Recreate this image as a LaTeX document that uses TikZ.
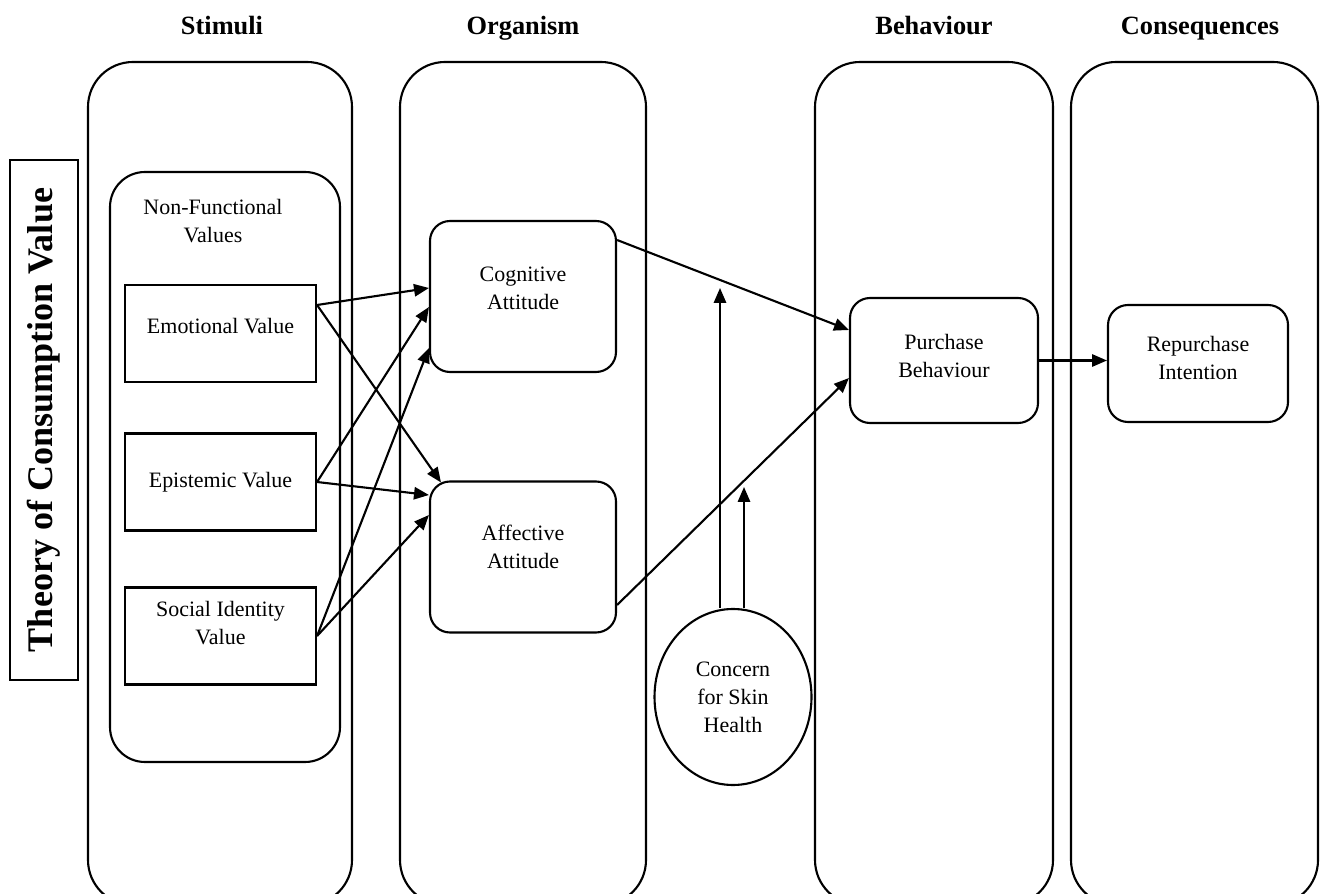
\documentclass[tikz,border=0pt]{standalone}
\usepackage{fontspec}
\setmainfont{Liberation Serif}
\usetikzlibrary{arrows.meta,shapes.geometric}
\tikzset{
  colbox/.style={draw, line width=1.2pt, rounded corners=0.9cm,
    minimum height=16.86cm, inner sep=0pt},
  colhead/.style={font=\fontsize{15}{18}\selectfont\bfseries, anchor=base},
  bodytext/.style={font=\fontsize{12.5}{16}\selectfont, align=center},
  valbox/.style={draw, line width=1.2pt, bodytext,
    minimum width=3.82cm, minimum height=1.94cm},
  attbox/.style={draw, line width=1.2pt, rounded corners=0.4cm, bodytext,
    minimum width=3.72cm, minimum height=3.02cm},
  behbox/.style={draw, line width=1.2pt, rounded corners=0.4cm, bodytext,
    minimum width=3.76cm, minimum height=2.5cm},
  link/.style={-{Triangle[length=8.5pt,width=7pt]}, line width=1.2pt}
}
\begin{document}
\begin{tikzpicture}

\clip (0,0) rectangle (26.42,-17.88);

% --- Columns ---
\node[colbox, minimum width=5.28cm] (stim) at (4.40,-9.67) {};
\node[colbox, minimum width=4.92cm] (org)  at (10.46,-9.67) {};
\node[colbox, minimum width=4.76cm] (beh)  at (18.68,-9.67) {};
\node[colbox, minimum width=4.94cm] (cons) at (23.89,-9.67) {};

\node[colhead] (hstim) at (4.44,-0.70) {Stimuli};
\node[colhead] (horg)  at (10.46,-0.70) {Organism};
\node[colhead] (hbeh)  at (18.68,-0.70) {Behaviour};
\node[colhead] (hcons) at (24.00,-0.70) {Consequences};

% --- Theory label ---
\node[draw, line width=1.2pt, rotate=90, minimum width=10.4cm, minimum height=1.36cm,
  inner sep=0pt, font=\fontsize{20.5}{24}\selectfont\bfseries]
  (tcv) at (0.88,-8.40) {Theory of Consumption Value};

% --- Stimuli: non-functional values ---
\node[draw, line width=1.2pt, rounded corners=0.7cm,
  minimum width=4.6cm, minimum height=11.8cm] (nfv) at (4.50,-9.34) {};
\node[bodytext] (nfvlabel) at (4.26,-4.42) {Non-Functional\\Values};

\node[valbox, text depth=0.32cm] (emo) at (4.41,-6.67)  {Emotional Value};
\node[valbox] (epi) at (4.41,-9.64)  {Epistemic Value};
\node[valbox, text depth=0.52cm] (soc) at (4.41,-12.72) {Social Identity\\Value};

% --- Organism ---
\node[attbox, text depth=0.32cm] (cog) at (10.46,-5.93)  {Cognitive\\Attitude};
\node[attbox, text depth=0.40cm] (aff) at (10.46,-11.14) {Affective\\Attitude};

% --- Moderator ---
\node[draw, ellipse, line width=1.2pt, bodytext, inner sep=0pt,
  minimum width=3.14cm, minimum height=3.52cm]
  (csh) at (14.66,-13.94) {Concern\\for Skin\\Health};
\coordinate (mod1) at (14.40,-5.76);
\coordinate (mod2) at (14.88,-9.74);

% --- Behaviour and consequences ---
\node[behbox, text depth=0.20cm] (pb) at (18.88,-7.21) {Purchase\\Behaviour};
\node[behbox, text depth=0.24cm, minimum width=3.6cm, minimum height=2.34cm]
  (ri) at (23.96,-7.27) {Repurchase\\Intention};

% Stimuli -> Organism
\draw[link] ([yshift=0.57cm]emo.east) -- ([yshift=0.17cm]cog.west);
\draw[link] ([yshift=0.57cm]emo.east) -- ([xshift=0.24cm,yshift=-0.04cm]aff.north west);
\draw[link] (epi.east) -- ([yshift=-0.21cm]cog.west);
\draw[link] (epi.east) -- ([yshift=1.24cm]aff.west);
\draw[link] (soc.east) -- ([yshift=-1.03cm]cog.west);
\draw[link] (soc.east) -- ([yshift=0.84cm]aff.west);

% Organism -> Behaviour
\draw[link] ([yshift=1.13cm]cog.east) -- ([yshift=0.61cm]pb.west);
\draw[link] ([yshift=-0.96cm]aff.east) -- ([yshift=-0.35cm]pb.west);

% Behaviour -> Consequences
\draw[link] (pb.east) -- (pb.east -| ri.west);

% Moderation
\draw[link] (csh.north -| mod1) -- (mod1);
\draw[link] (csh.north -| mod2) -- (mod2);

\end{tikzpicture}
\end{document}
